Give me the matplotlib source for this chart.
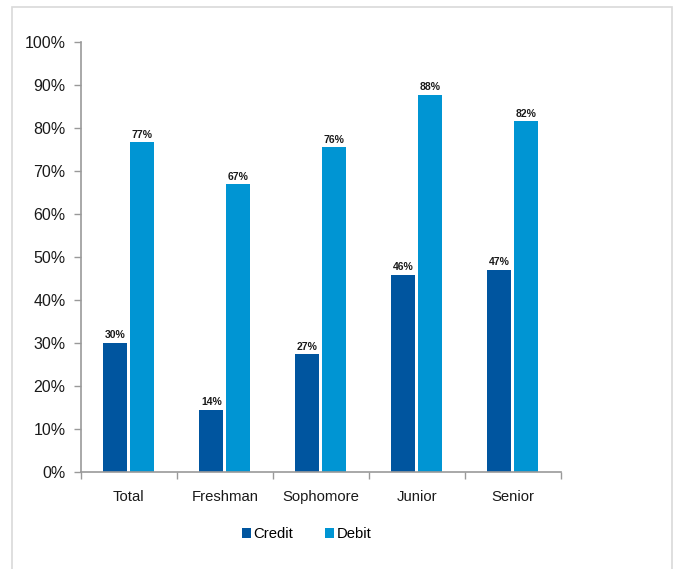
import numpy as np
import matplotlib.pyplot as plt
from matplotlib.patches import Rectangle

plt.rcParams['font.family'] = ['Liberation Sans', 'DejaVu Sans']

# values (percent)
categories = ["Total", "Freshman", "Sophomore", "Junior", "Senior"]
credit = [30.0, 14.4, 27.3, 45.9, 47.0]
debit = [76.7, 66.9, 75.5, 87.7, 81.6]
credit_labels = ["30%", "14%", "27%", "46%", "47%"]
debit_labels = ["77%", "67%", "76%", "88%", "82%"]

credit_color = "#00559F"
debit_color = "#0095D3"

fig = plt.figure(figsize=(6.74, 5.69), dpi=100)
ax = fig.add_axes([0.120, 0.171, 0.712, 0.755])

x = np.arange(len(categories))
w = 0.25
off = 0.14
b1 = ax.bar(x - off, credit, w, color=credit_color, label="Credit")
b2 = ax.bar(x + off, debit, w, color=debit_color, label="Debit")

for bars, labels in [(b1, credit_labels), (b2, debit_labels)]:
    for rect, lab in zip(bars, labels):
        ax.text(rect.get_x() + rect.get_width() / 2, rect.get_height() + 0.6, lab,
                ha="center", va="bottom", fontsize=7.5, fontweight="bold", color="#1a1a1a")

ax.set_ylim(0, 100)
ax.set_xlim(-0.5, len(categories) - 0.5)
ax.set_yticks(np.arange(0, 101, 10))
ax.set_yticklabels([f"{v}%" for v in range(0, 101, 10)], fontsize=11.5, color="#1a1a1a")

# category labels centered, tick marks between categories
ax.set_xticks(x)
ax.set_xticklabels(categories, fontsize=10.7, color="#1a1a1a")
ax.tick_params(axis="x", length=0, pad=13)
ax.set_xticks(np.arange(-0.5, len(categories)), minor=True)
ax.tick_params(axis="x", which="minor", length=5, color="#999999", width=1)
ax.tick_params(axis="y", length=5, color="#999999", width=1, pad=6)

for s in ["top", "right"]:
    ax.spines[s].set_visible(False)
for s in ["left", "bottom"]:
    ax.spines[s].set_color("#999999")
    ax.spines[s].set_linewidth(1.2)

fig.legend(handles=[b1, b2], labels=["Credit", "Debit"], loc="center",
           bbox_to_anchor=(0.455, 0.061), ncol=2, frameon=False, fontsize=10.7,
           handlelength=0.6, handleheight=0.6, handletextpad=0.2, columnspacing=2.1)

# light frame around the whole chart (bottom edge runs off the image)
fig.patches.append(Rectangle((12 / 674, -10 / 569), 660 / 674, 572 / 569, transform=fig.transFigure,
                             fill=False, edgecolor="#D9D9D9", linewidth=1.2))

fig.savefig("out.png", dpi=100)
